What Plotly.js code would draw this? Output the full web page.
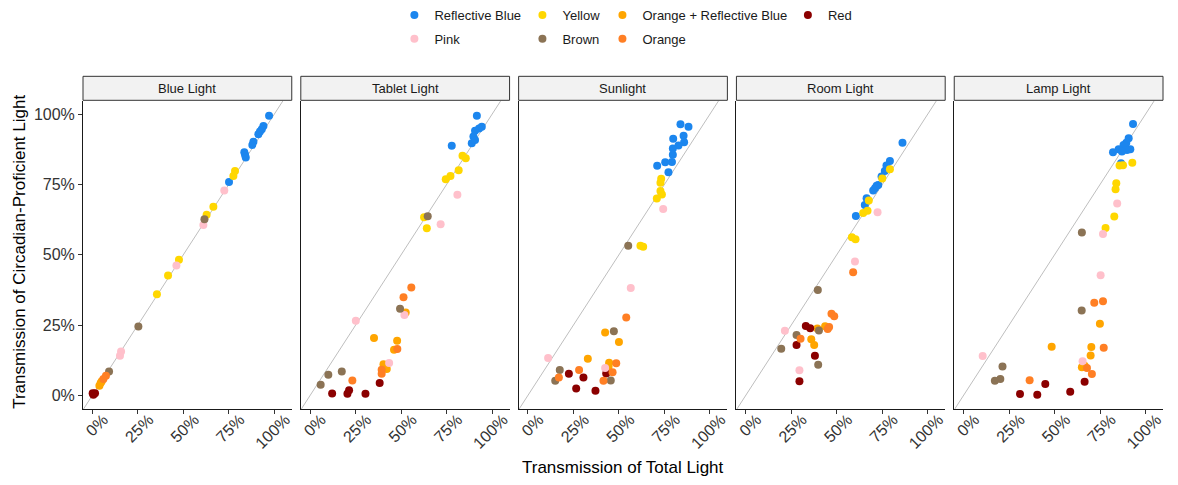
<!DOCTYPE html>
<html>
<head>
<meta charset="utf-8">
<script src="https://cdn.plot.ly/plotly-3.0.1.min.js"></script>
<style>html,body{margin:0;padding:0;background:#fff;}#chart{width:1178px;height:485px;}</style>
</head>
<body>
<div id="chart"></div>
<script>
// ---------- DATA (values in percent) ----------
const panels = ['Blue Light', 'Tablet Light', 'Sunlight', 'Room Light', 'Lamp Light'];
const categories = ['Reflective Blue', 'Yellow', 'Orange + Reflective Blue', 'Red', 'Pink', 'Brown', 'Orange'];
const tickValues = [0, 25, 50, 75, 100];
const tickLabels = ['0%', '25%', '50%', '75%', '100%'];
const xTitle = 'Transmission of Total Light';
const yTitle = 'Transmission of Circadian-Proficient Light';

// each array: one sub-array per panel (Blue, Tablet, Sun, Room, Lamp)
const reflectiveBlueX = [
  [97.1, 94.0, 93.1, 92.1, 91.2, 88.5, 87.9, 83.5, 83.9, 84.3, 75.1],
  [91.6, 94.3, 92.8, 90.6, 89.7, 88.8, 90.6, 77.8],
  [83.8, 88.2, 85.5, 79.8, 85.8, 82.7, 79.6, 79.6, 79.1, 75.4, 71.0, 77.2],
  [86.1, 79.2, 77.3, 76.4, 74.6, 72.8, 71.0, 70.0, 66.4, 65.4, 60.5, 71.9],
  [93.1, 90.7, 89.4, 87.9, 91.6, 89.8, 85.2, 82.1, 87.0, 86.5]
];
const reflectiveBlueY = [
  [99.4, 95.8, 94.6, 93.8, 92.8, 90.2, 89.0, 86.4, 85.5, 84.6, 75.9],
  [99.4, 95.5, 94.9, 94.1, 92.0, 89.6, 90.8, 88.7],
  [96.4, 95.5, 92.3, 91.2, 90.0, 88.8, 87.8, 85.5, 83.0, 82.9, 81.6, 79.3],
  [89.8, 83.3, 81.7, 79.8, 77.8, 74.8, 73.6, 72.8, 70.1, 67.7, 63.8, 74.5],
  [96.5, 91.4, 89.8, 89.0, 87.5, 87.2, 87.5, 86.4, 86.7, 82.5]
];
const yellowX = [
  [78.4, 77.5, 66.5, 62.8, 47.6, 41.6, 35.5],
  [83.7, 85.5, 81.6, 77.1, 74.5, 62.6, 64.1],
  [73.2, 72.8, 72.8, 73.6, 70.8, 61.8, 63.3],
  [79.2, 75.0, 67.6, 66.9, 64.5, 58.3, 60.3],
  [92.7, 85.7, 87.6, 83.9, 83.5, 82.8, 78.0]
];
const yellowY = [
  [79.8, 78.0, 67.1, 64.2, 48.2, 42.6, 36.0],
  [85.2, 84.3, 80.0, 78.0, 76.8, 63.3, 59.4],
  [77.0, 75.6, 72.7, 71.4, 70.0, 53.2, 52.8],
  [80.4, 77.1, 69.3, 65.6, 64.8, 56.2, 55.5],
  [82.7, 81.7, 81.8, 75.4, 73.3, 63.6, 59.5]
];
const orangeReflectiveBlueX = [
  [4.6, 3.9, 5.2],
  [52.5, 35.1, 47.8, 46.1, 40.3, 42.1],
  [42.4, 50.0, 32.9, 44.6, 44.3],
  [39.3, 43.6, 36.0, 37.6],
  [74.9, 48.4, 70.2, 69.8, 65.0, 66.5]
];
const orangeReflectiveBlueY = [
  [4.4, 3.4, 5.0],
  [29.5, 20.4, 19.4, 16.2, 11.1, 9.4],
  [22.4, 19.0, 13.0, 11.6, 10.3],
  [23.8, 24.6, 20.0, 17.9],
  [25.5, 17.3, 17.2, 14.2, 10.0, 10.5]
];
const redX = [
  [1.5, 0.6, 0.2],
  [12.1, 20.5, 21.4, 30.4, 38.2],
  [22.5, 30.5, 26.5, 37.1, 43.0],
  [33.0, 35.4, 27.9, 38.0, 29.5],
  [31.0, 40.5, 44.9, 58.6, 66.5]
];
const redY = [
  [0.8, 0.2, 0.8],
  [0.7, 0.6, 1.8, 0.6, 4.4],
  [7.7, 6.4, 2.5, 1.7, 7.8],
  [24.7, 23.9, 17.9, 14.1, 5.0],
  [0.5, 0.2, 4.1, 1.3, 4.9]
];
const pinkX = [
  [72.5, 61.0, 46.2, 15.8, 15.2],
  [80.9, 71.7, 25.1, 51.8, 43.4],
  [74.3, 56.5, 11.1, 42.4],
  [72.4, 60.0, 21.5, 29.5],
  [84.4, 76.6, 75.3, 10.5, 65.4]
];
const pinkY = [
  [72.8, 60.6, 46.2, 15.6, 14.1],
  [71.3, 60.8, 26.5, 28.6, 11.5],
  [66.3, 38.2, 13.3, 9.7],
  [65.1, 47.6, 23.0, 8.9],
  [68.2, 57.4, 42.7, 14.0, 12.1]
];
const brownX = [
  [61.6, 25.3, 9.2],
  [64.6, 49.4, 17.4, 10.0, 5.8],
  [55.1, 47.2, 17.5, 15.0, 45.5],
  [39.6, 27.9, 40.2, 19.5, 39.8],
  [65.0, 64.9, 21.4, 20.2, 17.2]
];
const brownY = [
  [62.6, 24.5, 8.5],
  [63.7, 30.8, 8.5, 7.3, 3.8],
  [53.2, 22.8, 9.0, 5.2, 5.3],
  [37.5, 21.5, 23.1, 16.6, 10.9],
  [57.9, 30.2, 10.3, 5.8, 5.2]
];
const orangeX = [
  [7.5, 6.1],
  [55.6, 51.3, 47.9, 39.3, 39.3, 23.2],
  [54.0, 48.5, 28.1, 46.5, 41.5, 17.0],
  [59.0, 47.1, 48.6, 45.8, 45.0, 30.1],
  [76.6, 71.8, 77.0, 67.8, 70.5, 36.3]
];
const orangeY = [
  [7.0, 5.8],
  [38.4, 34.9, 16.5, 9.1, 7.7, 5.3],
  [27.7, 11.4, 9.0, 8.2, 5.2, 6.4],
  [43.8, 29.0, 28.1, 24.3, 23.6, 20.1],
  [33.5, 32.9, 16.9, 9.7, 7.6, 5.4]
];

// ---------- STYLE ----------
const seriesX = [reflectiveBlueX, yellowX, orangeReflectiveBlueX, redX, pinkX, brownX, orangeX];
const seriesY = [reflectiveBlueY, yellowY, orangeReflectiveBlueY, redY, pinkY, brownY, orangeY];
const colors = ['#1C86EE', '#FFD700', '#FFA500', '#8B0000', '#FFC0CB', '#8B7355', '#FF7F24'];
const legendOf = ['legend', 'legend2', 'legend3', 'legend4', 'legend', 'legend2', 'legend3'];

const FONT = 'Liberation Sans, Arial, sans-serif';
const M = {l: 83, r: 15.3, t: 101, b: 75.7};
const plotW = 1178 - M.l - M.r;
const plotH = 485 - M.t - M.b;
const step = 217.75 / plotW;
const panelW = 208.7 / plotW;
const xRange = [-5.11, 109.56];
const yRange = [-4.83, 104.65];

const traces = [];
categories.forEach((cat, ci) => {
  panels.forEach((p, pi) => {
    const s = pi === 0 ? '' : String(pi + 1);
    traces.push({
      type: 'scatter', mode: 'markers',
      x: seriesX[ci][pi], y: seriesY[ci][pi],
      xaxis: 'x' + s, yaxis: 'y' + s,
      name: cat, legendgroup: cat, legend: legendOf[ci],
      showlegend: pi === 0,
      marker: {color: colors[ci], size: 8, line: {width: 0}},
      hoverinfo: 'x+y+name'
    });
  });
});

const layout = {
  width: 1178, height: 485,
  margin: M,
  paper_bgcolor: '#fff', plot_bgcolor: '#fff',
  font: {family: FONT, size: 13, color: '#222'},
  shapes: [], annotations: []
};

const legendDotX = [414.3, 542.3, 622.3, 807.7];
['legend', 'legend2', 'legend3', 'legend4'].forEach((lg, i) => {
  layout[lg] = {
    orientation: 'v', xref: 'paper', yref: 'container', xanchor: 'left', yanchor: 'top',
    x: (legendDotX[i] - 20 - M.l) / plotW, y: 1,
    bgcolor: 'rgba(0,0,0,0)', borderwidth: 0, tracegroupgap: 4,
    font: {family: FONT, size: 13, color: '#1A1A1A'}
  };
});

panels.forEach((p, pi) => {
  const s = pi === 0 ? '' : String(pi + 1);
  const d0 = step * pi;
  layout['xaxis' + s] = {
    domain: [d0, d0 + panelW], range: xRange, anchor: 'y' + s,
    showgrid: false, zeroline: false, showline: true, linecolor: '#1a1a1a', linewidth: 1,
    ticks: 'outside', ticklen: 4, tickwidth: 1, tickcolor: '#333',
    tickvals: tickValues, ticktext: tickLabels, tickangle: -45,
    ticklabelstandoff: -10, ticklabelshift: 11,
    tickfont: {family: FONT, size: 16, color: '#333'}, fixedrange: true
  };
  layout['yaxis' + s] = {
    domain: [0, 1], range: yRange, anchor: 'x' + s,
    showgrid: false, zeroline: false, showline: true, linecolor: '#1a1a1a', linewidth: 1,
    ticks: pi === 0 ? 'outside' : '', ticklen: 4, tickwidth: 1, tickcolor: '#333',
    tickvals: tickValues, ticktext: tickLabels, showticklabels: pi === 0,
    tickfont: {family: FONT, size: 16, color: '#333'}, fixedrange: true
  };
  // identity line y = x
  layout.shapes.push({
    type: 'line', xref: 'x' + s, yref: 'y' + s, x0: -20, y0: -20, x1: 120, y1: 120,
    line: {color: '#BEBEBE', width: 1}, layer: 'below'
  });
  // strip
  layout.shapes.push({
    type: 'rect', xref: 'x' + s + ' domain', yref: 'paper', x0: 0, x1: 1,
    y0: (plotH + 0.7) / plotH, y1: (plotH + 24.7) / plotH,
    fillcolor: '#F2F2F2', line: {color: '#333', width: 1}
  });
  layout.annotations.push({
    text: p, xref: 'x' + s + ' domain', yref: 'paper', x: 0.5, y: (plotH + 12.7) / plotH,
    xanchor: 'center', yanchor: 'middle', showarrow: false,
    font: {family: FONT, size: 13, color: '#1A1A1A'}
  });
});

layout.annotations.push({
  text: xTitle, xref: 'paper', yref: 'paper', x: (623 - M.l) / plotW, y: (485 - M.b - 468) / plotH,
  xanchor: 'center', yanchor: 'middle', showarrow: false,
  font: {family: FONT, size: 17, color: '#000'}
});
layout.annotations.push({
  text: yTitle, xref: 'paper', yref: 'paper', x: (20 - M.l) / plotW, y: (485 - M.b - 252) / plotH,
  xanchor: 'center', yanchor: 'middle', showarrow: false, textangle: -90,
  font: {family: FONT, size: 17, color: '#000'}
});

Plotly.newPlot('chart', traces, layout, {displayModeBar: false, responsive: false});
</script>
</body>
</html>
